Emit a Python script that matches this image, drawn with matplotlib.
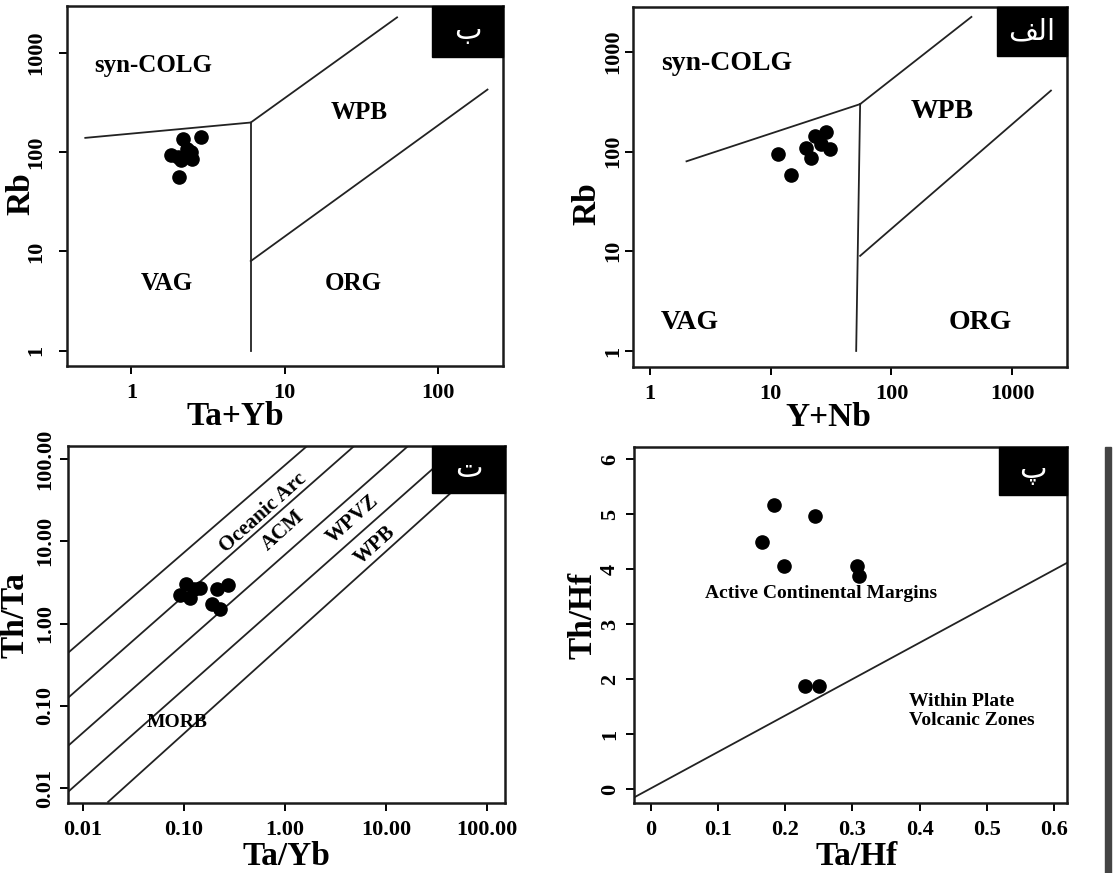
import numpy as np
import matplotlib
matplotlib.use("Agg")
import matplotlib.pyplot as plt
from matplotlib.patches import Rectangle
from matplotlib.ticker import NullLocator

plt.rcParams['font.family'] = ['Liberation Serif', 'DejaVu Sans']
plt.rcParams['font.weight'] = 'bold'

# --- data ---
# (a) Rb vs Ta+Yb
tayb = [2.05, 2.16, 2.85, 1.82, 2.10, 2.30, 2.45, 2.50, 2.00]
rb_a = [56, 135, 143, 93, 84, 108, 100, 86, 90]
# (b) Rb vs Y+Nb
ynb = [11.5, 14.8, 19.7, 21.7, 23.2, 28.9, 26.0, 31.0]
rb_b = [95, 58, 110, 86, 144, 159, 120, 107]
# (c) Th/Ta vs Ta/Yb
ta_yb = [0.091, 0.105, 0.114, 0.125, 0.143, 0.21, 0.273, 0.187, 0.226]
th_ta = [2.23, 2.99, 2.06, 2.60, 2.73, 2.60, 2.94, 1.71, 1.49]
# (d) Th/Hf vs Ta/Hf
ta_hf = [0.183, 0.244, 0.165, 0.198, 0.306, 0.309, 0.229, 0.250]
th_hf = [5.17, 4.97, 4.50, 4.05, 4.06, 3.87, 1.87, 1.88]

# discrimination boundaries (x list, y list)
lines_a = [([0.5, 6], [140, 200]), ([6, 6], [200, 1]),
           ([6, 54], [200, 2300]), ([6, 210], [8, 430])]
lines_b = [([2, 55], [80, 300]), ([55, 51], [300, 1]),
           ([55, 460], [300, 2250]), ([55, 2100], [9, 410])]
lines_c = [([0.0071, 1.61], [0.44, 140]), ([0.0071, 4.71], [0.125, 140]),
           ([0.0071, 16.1], [0.0326, 140]), ([0.0071, 40], [0.009, 108]),
           ([0.0177, 60], [0.0068, 55])]
lines_d = [([-0.025, 0.62], [-0.15, 4.12])]

tag_a = '\u0628'
tag_b = '\uFED2\uFEDF\uFE8D'
tag_c = '\u062A'
tag_d = '\u067E'

fig = plt.figure(figsize=(11.15, 8.73), dpi=100)
ax1 = fig.add_axes([0.0601, 0.5808, 0.391, 0.4124])
ax2 = fig.add_axes([0.5677, 0.5796, 0.3892, 0.4124])
ax3 = fig.add_axes([0.0610, 0.0802, 0.3919, 0.4090])
ax4 = fig.add_axes([0.5686, 0.0802, 0.3883, 0.4078])

LC = '#222222'


def common(ax, ypad, xlab, ylab, xl_pos, yl_pos, tag, box):
    for s in ax.spines.values():
        s.set_linewidth(1.8)
        s.set_color('#1a1a1a')
    ax.tick_params(axis='both', which='major', length=6, width=1.4,
                   labelsize=16, direction='out')
    ax.tick_params(axis='x', pad=6)
    ax.tick_params(axis='y', pad=ypad, labelrotation=90)
    for lab in ax.get_yticklabels():
        lab.set_va('center')
    ax.set_xlabel(xlab, fontsize=24, fontweight='bold')
    ax.set_ylabel(ylab, fontsize=24, fontweight='bold')
    ax.xaxis.set_label_coords(*xl_pos)
    ax.yaxis.set_label_coords(*yl_pos)
    ax.xaxis.label.set_va('center')
    ax.yaxis.label.set_va('center')
    ax.yaxis.label.set_ha('center')
    ax.add_patch(Rectangle((box[0], box[1]), 1 - box[0], 1 - box[1],
                           transform=ax.transAxes, color='black', zorder=10,
                           clip_on=False))
    ax.text(box[0] + (1 - box[0]) / 2, box[1] + (1 - box[1]) / 2, tag,
            transform=ax.transAxes, color='white', fontsize=21,
            family=['DejaVu Sans'], fontweight='normal',
            ha='center', va='center', zorder=11)


# (a)
for xs, ys in lines_a:
    ax1.plot(xs, ys, color=LC, lw=1.3)
ax1.plot(tayb, rb_a, 'o', color='black', ms=9.5)
ax1.set_xscale('log')
ax1.set_yscale('log')
ax1.set_xlim(0.38, 265)
ax1.set_ylim(0.7, 3000)
ax1.set_xticks([1, 10, 100], ['1', '10', '100'])
ax1.set_yticks([1, 10, 100, 1000], ['1', '10', '100', '1000'])
ax1.xaxis.set_minor_locator(NullLocator())
ax1.yaxis.set_minor_locator(NullLocator())
ax1.text(1.38, 760, 'syn-COLG', fontsize=18, ha='center', va='center')
ax1.text(30.6, 254, 'WPB', fontsize=18, ha='center', va='center')
ax1.text(1.69, 4.75, 'VAG', fontsize=18, ha='center', va='center')
ax1.text(27.9, 4.75, 'ORG', fontsize=18, ha='center', va='center')
common(ax1, 9, 'Ta+Yb', 'Rb', (0.385, -0.14), (-0.105, 0.48), tag_a,
       (0.837, 0.858))

# (b)
for xs, ys in lines_b:
    ax2.plot(xs, ys, color=LC, lw=1.3)
ax2.plot(ynb, rb_b, 'o', color='black', ms=9.5)
ax2.set_xscale('log')
ax2.set_yscale('log')
ax2.set_xlim(0.72, 2850)
ax2.set_ylim(0.69, 2830)
ax2.set_xticks([1, 10, 100, 1000], ['1', '10', '100', '1000'])
ax2.set_yticks([1, 10, 100, 1000], ['1', '10', '100', '1000'])
ax2.xaxis.set_minor_locator(NullLocator())
ax2.yaxis.set_minor_locator(NullLocator())
ax2.text(4.3, 775, 'syn-COLG', fontsize=20, ha='center', va='center')
ax2.text(263, 252, 'WPB', fontsize=20, ha='center', va='center')
ax2.text(2.14, 1.94, 'VAG', fontsize=20, ha='center', va='center')
ax2.text(542, 1.94, 'ORG', fontsize=20, ha='center', va='center')
common(ax2, 1, 'Y+Nb', 'Rb', (0.45, -0.14), (-0.106, 0.455), tag_b,
       (0.839, 0.864))

# (c)
for xs, ys in lines_c:
    ax3.plot(xs, ys, color=LC, lw=1.3)
ax3.plot(ta_yb, th_ta, 'o', color='black', ms=9.5)
ax3.set_xscale('log')
ax3.set_yscale('log')
ax3.set_xlim(0.0071, 150)
ax3.set_ylim(0.0066, 144)
dec = [0.01, 0.1, 1, 10, 100]
dec_lab = ['0.01', '0.10', '1.00', '10.00', '100.00']
ax3.set_xticks(dec, dec_lab)
ax3.set_yticks(dec, dec_lab)
ax3.xaxis.set_minor_locator(NullLocator())
ax3.yaxis.set_minor_locator(NullLocator())
for txt, x, y in [('Oceanic Arc', 0.6, 22), ('ACM', 0.95, 13.5),
                  ('WPVZ', 4.7, 18.5), ('WPB', 7.8, 9.0)]:
    ax3.text(x, y, txt, fontsize=15, ha='center', va='center', rotation=42)
ax3.text(0.085, 0.062, 'MORB', fontsize=14, ha='center', va='center')
common(ax3, 3, 'Ta/Yb', 'Th/Ta', (0.5, -0.15), (-0.122, 0.527), tag_c,
       (0.833, 0.868))

# (d)
for xs, ys in lines_d:
    ax4.plot(xs, ys, color=LC, lw=1.3)
ax4.plot(ta_hf, th_hf, 'o', color='black', ms=9.5)
ax4.set_xlim(-0.025, 0.619)
ax4.set_ylim(-0.25, 6.22)
ax4.set_xticks([0, 0.1, 0.2, 0.3, 0.4, 0.5, 0.6],
               ['0', '0.1', '0.2', '0.3', '0.4', '0.5', '0.6'])
ax4.set_yticks(range(7), [str(i) for i in range(7)])
ax4.text(0.254, 3.56, 'Active Continental Margins', fontsize=14,
         ha='center', va='center')
ax4.text(0.384, 1.42, 'Within Plate\nVolcanic Zones', fontsize=14,
         ha='left', va='center', linespacing=1.1)
common(ax4, 4, 'Ta/Hf', 'Th/Hf', (0.515, -0.15), (-0.118, 0.527), tag_d,
       (0.843, 0.865))

# dark edge strip along the right border of the lower-right panel
fig.patches.append(Rectangle((0.991, 0), 0.0054, 0.488, transform=fig.transFigure,
                             color='#444444', zorder=-1))

fig.savefig('out.png', dpi=100)
